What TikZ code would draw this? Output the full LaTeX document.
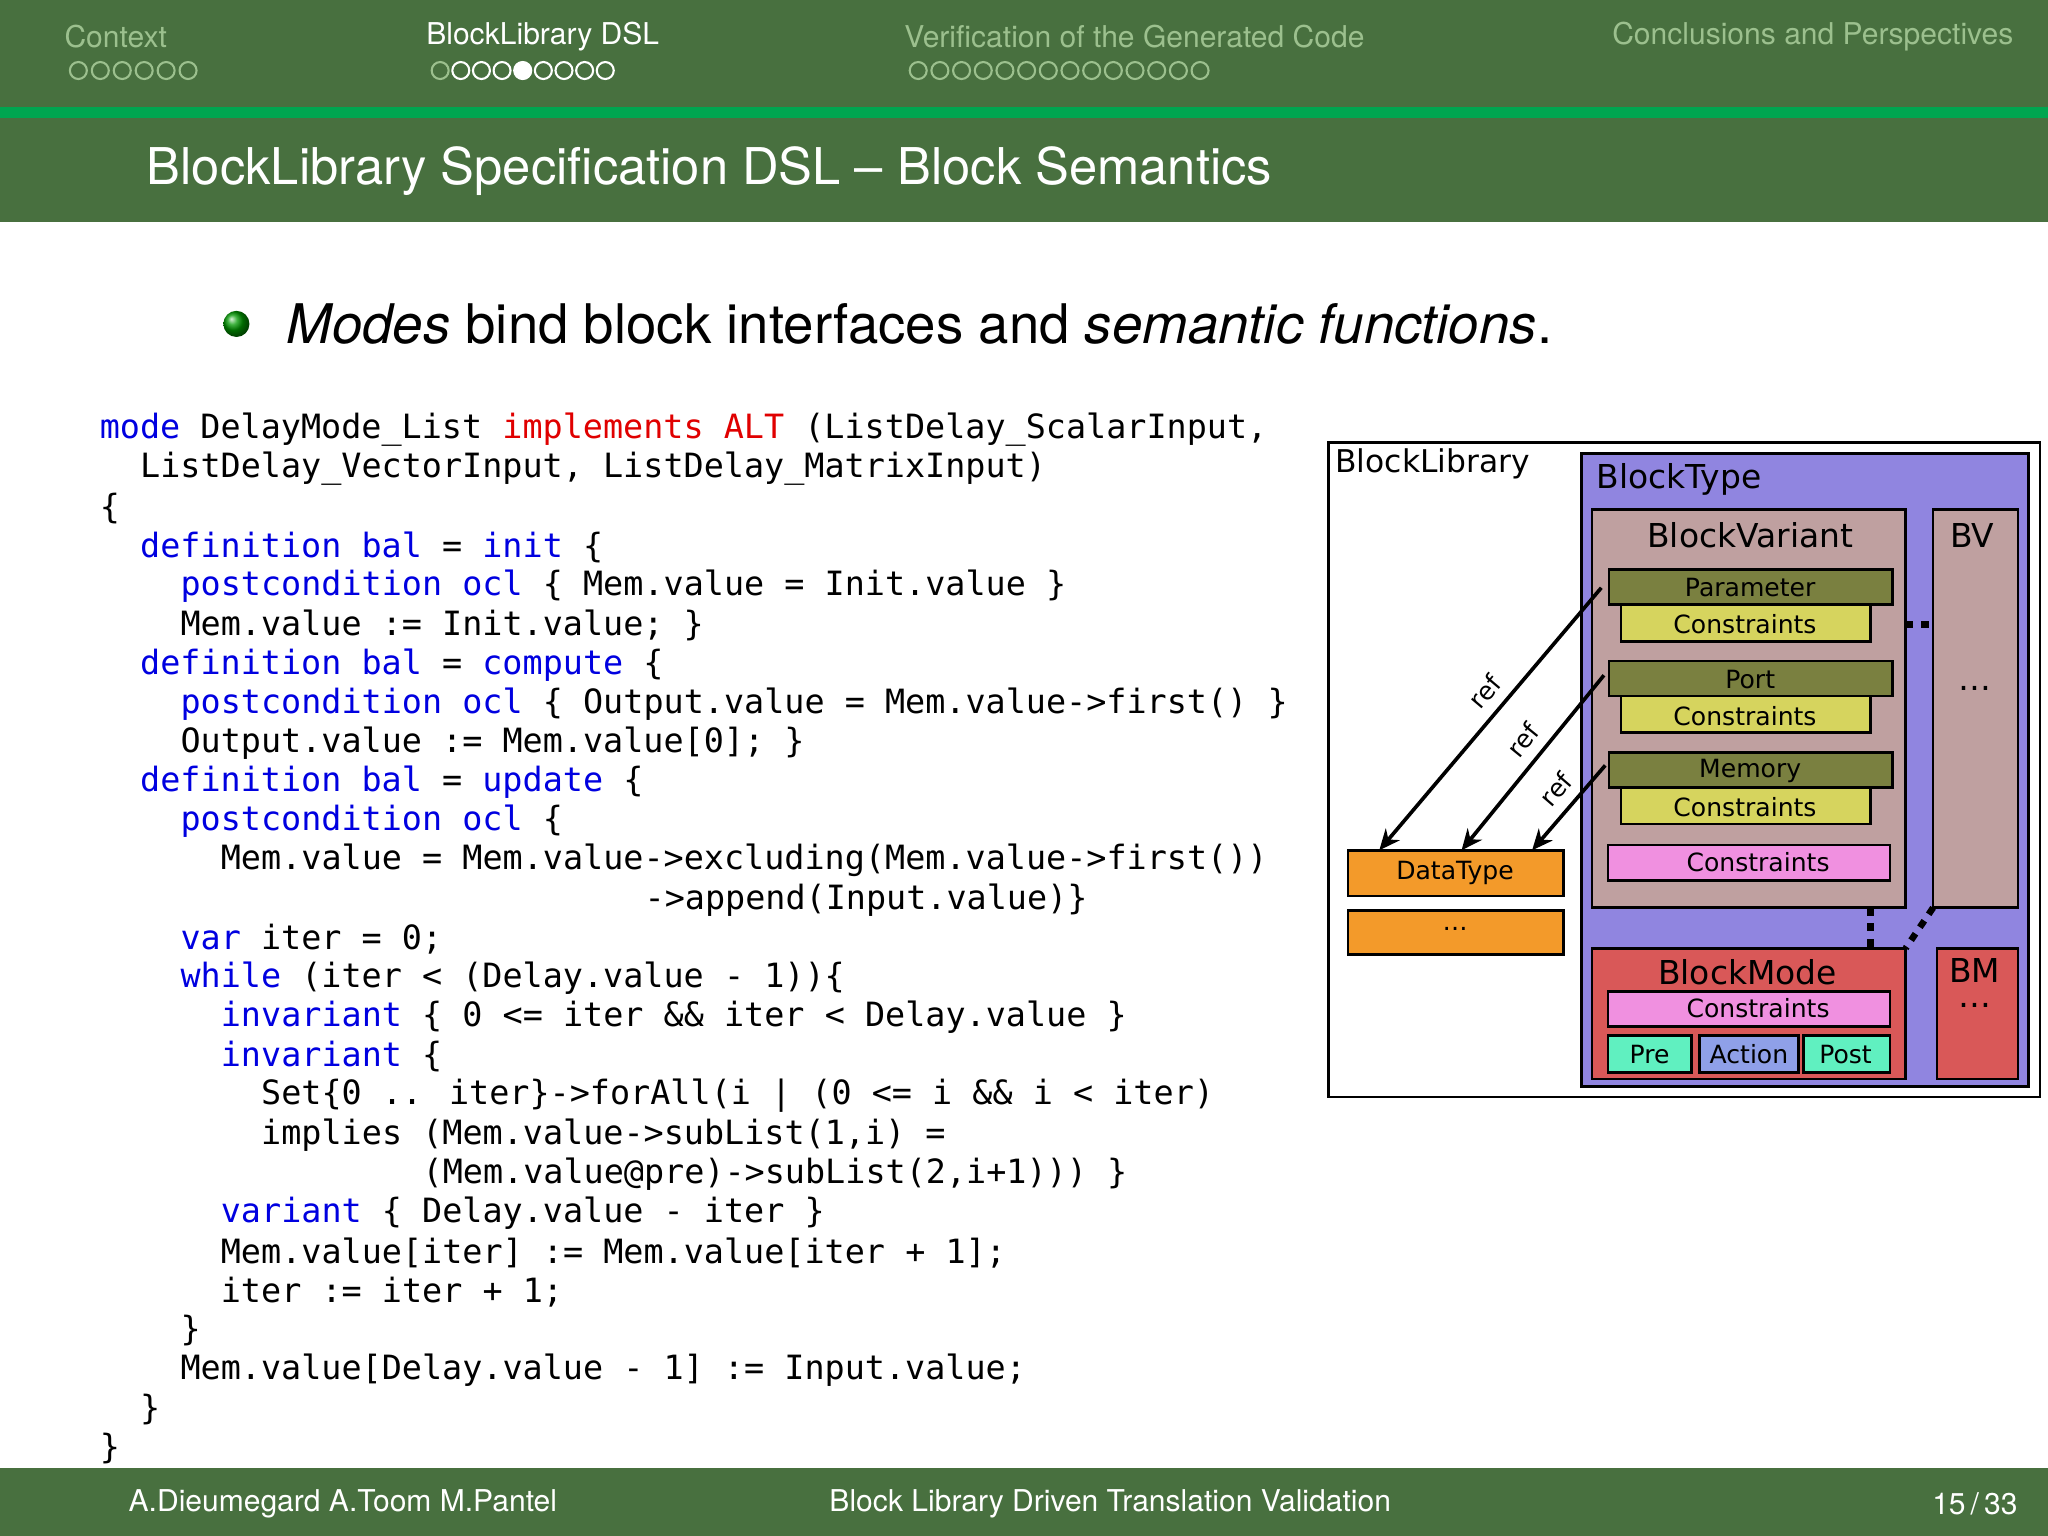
\documentclass[tikz,border=0pt]{standalone}
\usepackage{fontspec}
\setmainfont{TeX Gyre Heros}
\newfontfamily\dv{DejaVu Sans}
\newfontfamily\mono{DejaVu Sans Mono}
\usetikzlibrary{shadings,arrows.meta}
\definecolor{band}{HTML}{48703F}
\definecolor{stripe}{HTML}{00A650}
\definecolor{dim}{HTML}{9CC08E}
\definecolor{kwb}{HTML}{0000E0}
\definecolor{kwr}{HTML}{E00000}
\definecolor{purp}{HTML}{9085E0}
\definecolor{rosy}{HTML}{BFA0A0}
\definecolor{olive}{HTML}{7A8040}
\definecolor{ylw}{HTML}{D6D45E}
\definecolor{pink}{HTML}{F090E0}
\definecolor{orng}{HTML}{F39A2A}
\definecolor{redb}{HTML}{D95858}
\definecolor{mint}{HTML}{60F0C0}
\definecolor{blu}{HTML}{8FA0E8}
\newcommand{\kw}[1]{\textcolor{kwb}{#1}}
\newcommand{\rd}[1]{\textcolor{kwr}{#1}}
\begin{document}
\begin{tikzpicture}[x=0.5pt,y=-0.5pt,
  box/.style={draw=black,line width=1pt},
  lab/.style={font=\dv\fontsize{9.6}{11}\selectfont,inner sep=0pt},
  big/.style={font=\dv\fontsize{12.6}{14}\selectfont,inner sep=0pt},
  code/.style={anchor=west,inner sep=0pt,font=\mono\fontsize{12.8}{14}\selectfont},
  hdr/.style={anchor=west,inner sep=0pt,font=\fontsize{11.5}{13}\selectfont},
  dots/.style={line width=2.5pt,dash pattern=on 3pt off 3pt},
  refarr/.style={-{Stealth[length=8pt,width=7pt]},line width=1.4pt}]
\useasboundingbox (0,0) rectangle (1568,1176);
\fill[white] (0,0) rectangle (1568,1176);
% header
\fill[band] (0,0) rectangle (1568,82);
\fill[stripe] (0,82) rectangle (1568,90);
\fill[band] (0,90) rectangle (1568,170);
\node[hdr,text=dim] (s1) at (49,28) {Context};
\node[hdr,text=white] (s2) at (326,28) {BlockLibrary DSL};
\node[hdr,text=dim] (s3) at (692,28) {Verification of the Generated Code};
\node[hdr,text=dim] (s4) at (1234,28) {Conclusions and Perspectives};
\foreach \i in {0,...,5} \draw[dim,line width=0.8pt] (60+\i*16.8,54) circle (6.5);
\draw[dim,line width=0.8pt] (337,54) circle (6.5);
\foreach \i in {1,...,8} \draw[white,line width=0.8pt] (337+\i*15.8,54) circle (6.5);
\fill[white] (337+4*15.8,54) circle (7);
\foreach \i in {0,...,13} \draw[dim,line width=0.8pt] (703+\i*16.6,54) circle (6.5);
\node[anchor=west,inner sep=0pt,text=white,font=\fontsize{19.4}{23}\selectfont] (title) at (112,131) {BlockLibrary Specification DSL -- Block Semantics};
% bullet
\shade[ball color=green!60!black] (181,248) circle (10);
\node[anchor=west,inner sep=0pt,font=\fontsize{20.9}{25}\selectfont] (bul) at (219,248) {\textit{Modes} bind block interfaces and \textit{semantic functions}.};
% code
\def\cx#1{76+#1*15.45}
\begin{scope}[yshift=-1.5pt]
\node[code] (c0) at (\cx{0},326) {\kw{mode} DelayMode\_List \rd{implements ALT} (ListDelay\_ScalarInput,};
\node[code] (c1) at (\cx{2},356) {ListDelay\_VectorInput, ListDelay\_MatrixInput)};
\node[code] (c2) at (\cx{0},386) {\{};
\node[code] (c3) at (\cx{2},416) {\kw{definition bal} = \kw{init} \{};
\node[code] (c4) at (\cx{4},446) {\kw{postcondition ocl} \{ Mem.value = Init.value \}};
\node[code] (c5) at (\cx{4},476) {Mem.value := Init.value; \}};
\node[code] (c6) at (\cx{2},506) {\kw{definition bal} = \kw{compute} \{};
\node[code] (c7) at (\cx{4},536) {\kw{postcondition ocl} \{ Output.value = Mem.value->first() \}};
\node[code] (c8) at (\cx{4},566) {Output.value := Mem.value[0]; \}};
\node[code] (c9) at (\cx{2},596) {\kw{definition bal} = \kw{update} \{};
\node[code] (c10) at (\cx{4},626) {\kw{postcondition ocl} \{};
\node[code] (c11) at (\cx{6},656) {Mem.value = Mem.value->excluding(Mem.value->first())};
\node[code] (c12) at (\cx{27},686) {->append(Input.value)\}};
\node[code] (c13) at (\cx{4},716) {\kw{var} iter = 0;};
\node[code] (c14) at (\cx{4},746) {\kw{while} (iter < (Delay.value - 1))\{};
\node[code] (c15) at (\cx{6},776) {\kw{invariant} \{ 0 <= iter \&\& iter < Delay.value \}};
\node[code] (c16) at (\cx{6},806) {\kw{invariant} \{};
\node[code] (c17) at (\cx{8},836) {Set\{0 .. iter\}->forAll(i | (0 <= i \&\& i < iter)};
\node[code] (c18) at (\cx{8},866) {implies (Mem.value->subList(1,i) =};
\node[code] (c19) at (\cx{16},896) {(Mem.value@pre)->subList(2,i+1))) \}};
\node[code] (c20) at (\cx{6},926) {\kw{variant} \{ Delay.value - iter \}};
\node[code] (c21) at (\cx{6},956) {Mem.value[iter] := Mem.value[iter + 1];};
\node[code] (c22) at (\cx{6},986) {iter := iter + 1;};
\node[code] (c23) at (\cx{4},1016) {\}};
\node[code] (c24) at (\cx{4},1046) {Mem.value[Delay.value - 1] := Input.value;};
\node[code] (c25) at (\cx{2},1076) {\}};
\node[code] (c26) at (\cx{0},1106) {\}};
\end{scope}
% diagram
\draw[box,fill=white] (1017,339) rectangle (1562,840);
\node[big,anchor=west,font=\dv\fontsize{12}{14}\selectfont] (bl) at (1022,355) {BlockLibrary};
\draw[box,fill=purp] (1211,347) rectangle (1553,832);
\node[big,anchor=west] (bt) at (1222,367) {BlockType};
\draw[box,fill=rosy] (1219,390) rectangle (1459,695);
\node[big] (bvt) at (1340,410) {BlockVariant};
\draw[box,fill=rosy] (1480,390) rectangle (1545,695);
\node[big] (bvl) at (1510,410) {BV};
\node[big] (bvd) at (1512,527) {\dots};
\foreach \n/\y in {Parameter/436,Port/506,Memory/576}{
  \draw[box,fill=olive] (1232,\y) rectangle (1449,\y+27);
  \node[lab] at (1340,\y+14) {\n};
  \draw[box,fill=ylw] (1241,\y+27) rectangle (1432,\y+55);
  \node[lab] at (1336,\y+42) {Constraints};
}
\coordinate (p1) at (1226,450); \coordinate (p2) at (1228,517); \coordinate (p3) at (1229,586);
\draw[box,fill=pink] (1231,647) rectangle (1447,674);
\node[lab] (vc) at (1346,660) {Constraints};
\draw[box,fill=orng] (1032,651) rectangle (1197,686);
\node[lab] (dt) at (1114,668) {DataType};
\draw[box,fill=orng] (1032,697) rectangle (1197,731);
\node[lab] (dd) at (1114,711) {\dots};
\coordinate (d1) at (1056,651); \coordinate (d2) at (1119,651); \coordinate (d3) at (1173,651);
\draw[refarr] (p1) -- node[sloped,above,lab,yshift=4pt,pos=0.45]{ref} (d1);
\draw[refarr] (p2) -- node[sloped,above,lab,yshift=4pt,pos=0.45]{ref} (d2);
\draw[refarr] (p3) -- node[sloped,above,lab,yshift=4pt,pos=0.45]{ref} (d3);
\draw[box,fill=redb] (1219,726) rectangle (1459,826);
\node[big] (bm) at (1338,744) {BlockMode};
\draw[box,fill=pink] (1231,759) rectangle (1447,786);
\node[lab] (mc) at (1346,772) {Constraints};
\draw[box,fill=mint] (1231,793) rectangle (1295,821); \node[lab] (pre) at (1263,807) {Pre};
\draw[box,fill=blu] (1301,793) rectangle (1377,821); \node[lab] (act) at (1339,807) {Action};
\draw[box,fill=mint] (1381,793) rectangle (1447,821); \node[lab] (post) at (1413,807) {Post};
\draw[box,fill=redb] (1483,726) rectangle (1545,826);
\node[big] (bml) at (1512,743) {BM};
\node[big] (bmd) at (1512,770) {\dots};
\draw[dots] (1459,478) -- (1480,478);
\draw[dots] (1432,695) -- (1432,726);
\draw[dots] (1480,695) -- (1459,726);
% footer
\fill[band] (0,1124) rectangle (1568,1176);
\node[hdr,text=white] (f1) at (98,1151) {A.Dieumegard A.Toom M.Pantel};
\node[inner sep=0pt,text=white,font=\fontsize{11.5}{13}\selectfont] (f2) at (850,1151) {Block Library Driven Translation Validation};
\node[anchor=east,inner sep=0pt,text=white,font=\fontsize{11.5}{13}\selectfont] (f3) at (1545,1151) {15\,/\,33};
\end{tikzpicture}
\end{document}
